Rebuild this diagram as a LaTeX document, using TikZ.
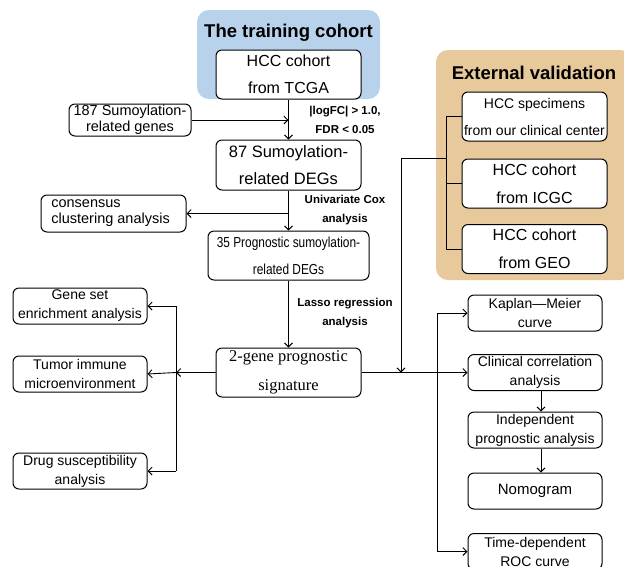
\documentclass[tikz,border=0pt]{standalone}
\usepackage{fontspec}
\setmainfont{Liberation Sans}
\newfontfamily\serifm{Liberation Serif}
\newfontfamily\narrowf[FakeStretch=0.82]{Liberation Sans}
\usetikzlibrary{arrows.meta}
\newcommand\fsz[2]{\fontsize{#1}{#2}\selectfont}
\definecolor{bluebg}{HTML}{B8D2EB}
\definecolor{tanbg}{HTML}{E8C99B}
\tikzset{
  box/.style={draw, line width=1pt, rounded corners=6pt, fill=white, inner sep=0pt, align=center},
  lbl/.style={inner sep=0pt, align=center, font=\bfseries\fsz{11.5}{19}},
  arr/.style={line width=0.9pt, -{Straight Barb[length=4pt,width=8pt]}},
  ln/.style={line width=0.9pt}
}
\begin{document}
\begin{tikzpicture}[x=1pt,y=-1pt]
\useasboundingbox (0,0) rectangle (624,566);
% backgrounds
\fill[bluebg, rounded corners=12pt] (197,10) rectangle (380,99);
\fill[tanbg, rounded corners=12pt] (436,50) rectangle (632,280);
\node[inner sep=0pt, font=\bfseries\fsz{18.5}{20}] (t1) at (288.5,33) {The training cohort};
\node[inner sep=0pt, font=\bfseries\fsz{18.5}{20}] (t2) at (534,73) {External validation};
% left/center column
\node[box, minimum width=145, minimum height=49, font=\fsz{16}{27}] (tcga) at (288.5,74.5) {HCC cohort\\from TCGA};
\node[box, minimum width=122, minimum height=32, font=\fsz{14.5}{16}] (g187) at (130,120) {187 Sumoylation-\\related genes};
\node[box, minimum width=145, minimum height=50, font=\fsz{16.5}{27}] (d87) at (288.5,165) {87 Sumoylation-\\related DEGs};
\node[box, minimum width=145, minimum height=37, align=left, font=\fsz{14.5}{16}] (cons) at (113.5,213.5) {consensus\hspace*{55pt}\\clustering analysis};
\node[box, minimum width=161, minimum height=49, font=\narrowf\fsz{14.5}{27}] (p35) at (288.5,255.5) {35 Prognostic sumoylation-\\related DEGs};
\node[box, minimum width=145, minimum height=49, font=\serifm\fsz{16.5}{29}] (sig) at (288.5,372.5) {2-gene prognostic\\signature};
\node[box, minimum width=134, minimum height=36, font=\fsz{14}{19}] (gsea) at (80,306) {Gene set\\enrichment analysis};
\node[box, minimum width=134, minimum height=36, font=\fsz{14}{19}] (tim) at (80,374) {Tumor immune\\microenvironment};
\node[box, minimum width=134, minimum height=36, font=\fsz{14}{19}] (drug) at (80,471) {Drug susceptibility\\analysis};
% external validation
\node[box, minimum width=145, minimum height=49, font=\fsz{14}{27}] (spec) at (534.5,116.5) {HCC specimens\\from our clinical center};
\node[box, minimum width=145, minimum height=49, font=\fsz{16}{28}] (icgc) at (534.5,183.5) {HCC cohort\\from ICGC};
\node[box, minimum width=145, minimum height=49, font=\fsz{16}{28}] (geo) at (534.5,249) {HCC cohort\\from GEO};
% right column
\node[box, minimum width=134, minimum height=36, font=\fsz{14}{19}] (km) at (535,313) {Kaplan---Meier\\curve};
\node[box, minimum width=134, minimum height=36, font=\fsz{14}{19}] (clin) at (535,372.5) {Clinical correlation\\analysis};
\node[box, minimum width=134, minimum height=36, font=\fsz{14}{19}] (indep) at (535,430) {Independent\\prognostic analysis};
\node[box, minimum width=134, minimum height=36, font=\fsz{15}{19}] (nomo) at (535,491) {Nomogram};
\node[box, minimum width=134, minimum height=36, font=\fsz{14}{19}] (roc) at (535,551.5) {Time-dependent\\ROC curve};
% labels
\node[lbl] (l1) at (345,120) {|logFC| > 1.0,\\FDR < 0.05};
\node[lbl] (l2) at (345,210) {Univariate Cox\\analysis};
\node[lbl] (l3) at (345,313) {Lasso regression\\analysis};
% connectors centre column
\draw[arr] (tcga.south) -- (d87.north);
\draw[arr] (g187.east) -- (tcga.south |- g187.east);
\draw[arr] (d87.south) -- (p35.north);
\draw[arr] (d87.south |- cons.east) -- (cons.east);
\draw[arr] (p35.south) -- (sig.north);
% left fan
\coordinate (lj) at (176,372.5);
\coordinate (ltop) at (176,306);
\coordinate (lbot) at (176,471);
\draw[arr] (sig.west) -- (lj);
\draw[ln] (ltop) -- (lbot);
\draw[arr] (ltop) -- (gsea.east);
\draw[arr] (lj) -- (tim.east);
\draw[arr] (lbot) -- (drug.east);
% right fan
\draw[arr] (sig.east) -- (clin.west);
\coordinate (rtop) at (437,313);
\coordinate (rbot) at (437,551.5);
\draw[ln] (rtop) -- (rbot);
\draw[arr] (rtop) -- (km.west);
\draw[arr] (rbot) -- (roc.west);
\draw[arr] ([xshift=6pt]clin.south) -- ([xshift=6pt]indep.north);
\draw[arr] ([xshift=6pt]indep.south) -- ([xshift=6pt]nomo.north);
% external validation bracket
\coordinate (etop) at (446,116.5);
\coordinate (ebot) at (446,249);
\coordinate (emid) at (446,158);
\coordinate (ecorner) at (401,158);
\coordinate (edown) at (401,372.5);
\draw[ln] (etop) -- (ebot);
\draw[ln] (etop) -- (spec.west);
\draw[ln] (emid |- icgc.west) -- (icgc.west);
\draw[ln] (ebot) -- (geo.west);
\draw[arr] (emid) -- (ecorner) -- (edown);
\end{tikzpicture}
\end{document}
